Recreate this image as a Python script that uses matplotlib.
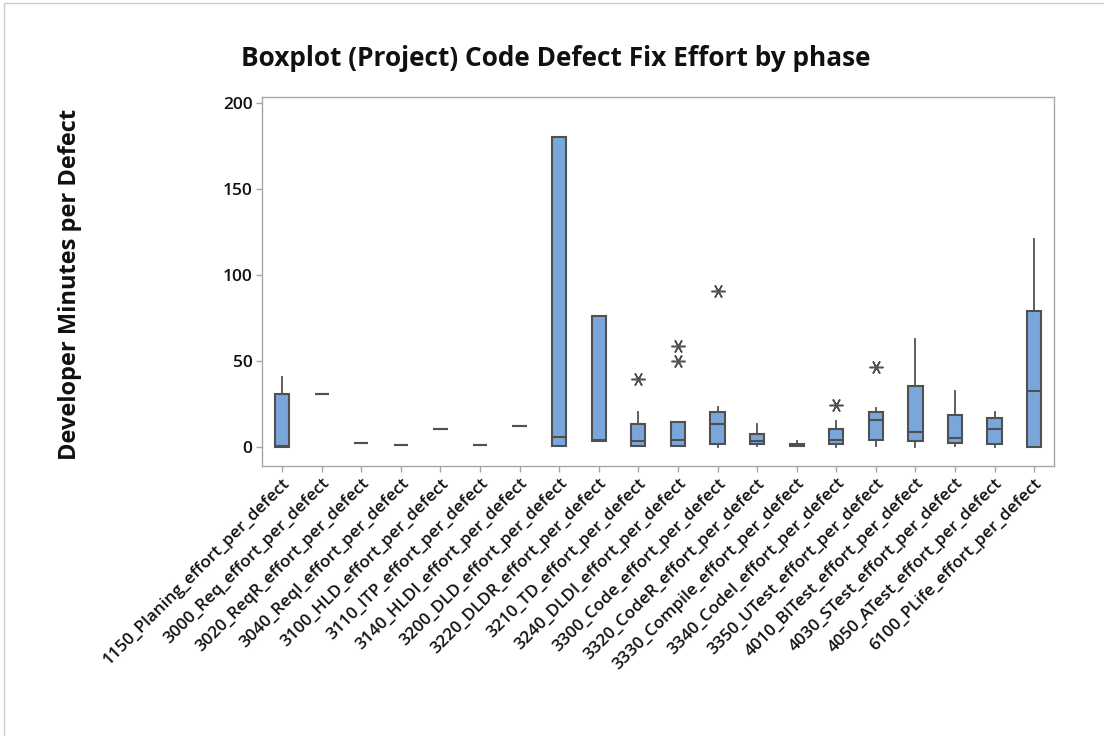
import matplotlib
matplotlib.use("Agg")
import matplotlib.pyplot as plt
from matplotlib.patches import Rectangle

plt.rcParams['font.family'] = ['Open Sans', 'DejaVu Sans']

phases = [
    "1150_Planing_effort_per_defect", "3000_Req_effort_per_defect",
    "3020_ReqR_effort_per_defect", "3040_ReqI_effort_per_defect",
    "3100_HLD_effort_per_defect", "3110_ITP_effort_per_defect",
    "3140_HLDI_effort_per_defect", "3200_DLD_effort_per_defect",
    "3220_DLDR_effort_per_defect", "3210_TD_effort_per_defect",
    "3240_DLDI_effort_per_defect", "3300_Code_effort_per_defect",
    "3320_CodeR_effort_per_defect", "3330_Compile_effort_per_defect",
    "3340_CodeI_effort_per_defect", "3350_UTest_effort_per_defect",
    "4010_BITest_effort_per_defect", "4030_STest_effort_per_defect",
    "4050_ATest_effort_per_defect", "6100_PLife_effort_per_defect",
]
q1 = [0.0, 31.0, 2.5, 1.2, 10.5, 1.2, 12.2, 0.6, 3.5, 0.6,
      0.6, 1.6, 1.6, 0.6, 1.6, 4.1, 3.3, 2.3, 1.6, 0.0]
median = [0.5, 31.0, 2.5, 1.2, 10.5, 1.2, 12.2, 6.0, 4.0, 3.3,
          4.3, 13.2, 3.3, 1.0, 4.3, 15.7, 8.7, 5.0, 10.3, 32.8]
q3 = [30.8, 31.0, 2.5, 1.2, 10.5, 1.2, 12.2, 180.1, 76.2, 13.2,
      14.7, 20.2, 7.8, 1.6, 10.3, 20.2, 35.5, 18.4, 16.7, 78.9]
whisker_low = [0.0, 31.0, 2.5, 1.2, 10.5, 1.2, 12.2, 0.6, 3.5, 0.6,
               0.6, 0.0, 0.4, 0.6, 0.0, 0.6, 0.0, 0.4, 0.0, 0.0]
whisker_high = [40.9, 31.0, 2.5, 1.2, 10.5, 1.2, 12.2, 180.1, 76.2, 20.4,
                14.7, 23.1, 13.2, 3.3, 14.9, 22.9, 63.0, 32.8, 20.2, 120.8]
outliers = [[], [], [], [], [], [], [], [], [], [39.7],
            [50.2, 58.8], [90.6], [], [], [24.6], [46.7], [], [], [], []]
y_ticks = [0, 50, 100, 150, 200]

stats = []
for i in range(len(phases)):
    stats.append(dict(label=phases[i], q1=q1[i], med=median[i], q3=q3[i],
                      whislo=whisker_low[i], whishi=whisker_high[i],
                      fliers=outliers[i]))

fig = plt.figure(figsize=(11.04, 7.36), dpi=100)
ax = fig.add_axes([0.2376, 0.3673, 0.9547 - 0.2376, 0.8686 - 0.3673])

edge = "#505050"
ax.bxp(stats, positions=range(1, len(phases) + 1), widths=0.36,
       patch_artist=True, showcaps=False,
       boxprops=dict(facecolor="#7BA6DA", edgecolor=edge, linewidth=1.5),
       medianprops=dict(color=edge, linewidth=1.5),
       whiskerprops=dict(color=edge, linewidth=1.3),
       flierprops=dict(marker=(6, 2, 90), markersize=10,
                       markeredgecolor=edge, markeredgewidth=1.1,
                       markerfacecolor="none", linestyle="none"))

ax.set_xlim(0.5, 20.5)
ax.set_ylim(-10.9, 203.8)
ax.set_yticks(y_ticks)
ax.set_xticks(range(1, len(phases) + 1))
ax.set_xticklabels(phases, rotation=45, ha="right", rotation_mode="anchor",
                   fontsize=12.3, fontweight="semibold", color="#111111")
for lab in ax.get_yticklabels():
    lab.set_fontsize(12.5)
    lab.set_fontweight("semibold")
    lab.set_color("#111111")

for sp in ax.spines.values():
    sp.set_color("#A6A6A6")
    sp.set_linewidth(1.0)
ax.tick_params(axis="both", direction="out", length=4, width=1,
               color="#A6A6A6", pad=3)

fig.text(0.503, 0.921, "Boxplot (Project) Code Defect Fix Effort by phase",
         ha="center", va="center", fontsize=18.9, fontweight="bold",
         color="#111111")
fig.text(0.0634, 0.613, "Developer Minutes per Defect", rotation=90,
         ha="center", va="center", fontsize=17, fontweight="bold",
         color="#111111")

fig.patches.append(Rectangle((3.5 / 1104, -0.1), 1.2, 1.1 - 3.5 / 736,
                             transform=fig.transFigure, fill=False,
                             edgecolor="#CFCFCF", linewidth=1.0))

fig.savefig("out.png", dpi=100)
